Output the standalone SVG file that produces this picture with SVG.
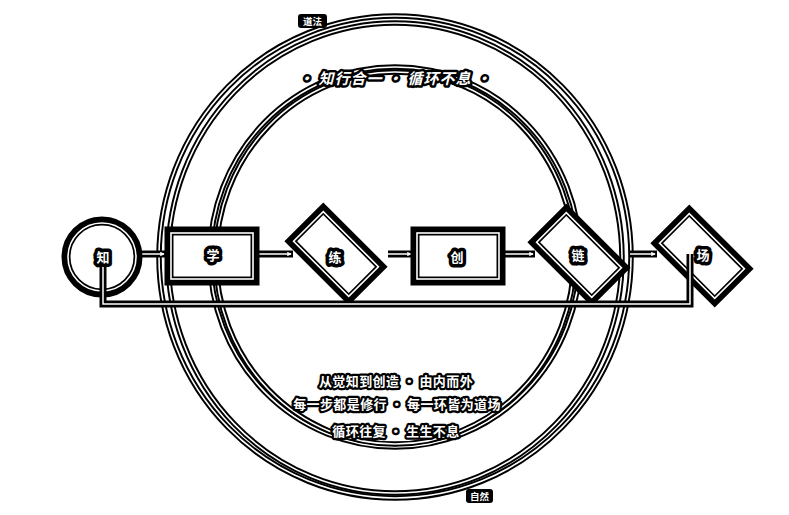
<svg xmlns="http://www.w3.org/2000/svg" width="789" height="515" viewBox="0 0 789 515">
<defs>
<style>
.rb{fill:none;stroke:#000;stroke-width:5.5}
.rw{fill:none;stroke:#fff;stroke-width:1.6}
.lb{fill:none;stroke:#000;stroke-width:7;stroke-linejoin:miter;stroke-linecap:butt}
.lw{fill:none;stroke:#fff;stroke-width:1.5;stroke-linejoin:miter}
.nb{fill:#fff;stroke:#000;stroke-width:9;stroke-linejoin:miter}
.nw{fill:none;stroke:#fff;stroke-width:1.6}
.t{font-family:"Noto Sans CJK SC","Noto Sans",sans-serif;font-weight:700;fill:#fff;stroke:#000;paint-order:stroke;stroke-linejoin:round;text-anchor:middle}
.nl{font-size:13px;stroke-width:7}
.cap{font-size:13px;stroke-width:4.5;letter-spacing:0.4px}
.ttl{font-size:15px;stroke-width:5;font-style:italic;letter-spacing:1px}
.tag{font-family:"Noto Sans CJK SC","Noto Sans",sans-serif;font-weight:700;font-size:9.5px;fill:#fff;text-anchor:middle}
</style>
<marker id="ah" viewBox="0 0 6 6" refX="5" refY="3" markerWidth="3" markerHeight="3" orient="auto" markerUnits="strokeWidth">
<path d="M0,0 L6,3 L0,6 z" fill="#fff"/>
</marker>
</defs>
<rect width="789" height="515" fill="#fff"/>

<g id="rings">
<ellipse class="rb" cx="395" cy="257" rx="236" ry="241"/>
<ellipse class="rw" cx="395" cy="257" rx="236" ry="241"/>
<ellipse class="rb" cx="395" cy="258" rx="227" ry="235"/>
<ellipse class="rw" cx="395" cy="258" rx="227" ry="235"/>
<ellipse class="rb" cx="395" cy="257" rx="185" ry="190"/>
<ellipse class="rw" cx="395" cy="257" rx="185" ry="190"/>
<ellipse class="rb" cx="395" cy="258" rx="179" ry="186"/>
<ellipse class="rw" cx="395" cy="258" rx="179" ry="186"/>
</g>

<g id="connectors">
<path class="lb" d="M136,254 H166 M258,254 H293 M388,254 H413 M503,254 H535 M630,254 H657"/>
<path class="lw" d="M136,254 H164" marker-end="url(#ah)"/>
<path class="lw" d="M258,254 H291" marker-end="url(#ah)"/>
<path class="lw" d="M388,254 H411" marker-end="url(#ah)"/>
<path class="lw" d="M503,254 H533" marker-end="url(#ah)"/>
<path class="lw" d="M630,254 H655" marker-end="url(#ah)"/>
</g>

<g id="node-zhi">
<circle class="nb" cx="102" cy="257" r="36"/>
<circle class="nw" cx="102" cy="257" r="34"/>
</g>
<g id="node-xue">
<rect class="nb" x="169" y="231" width="86" height="50"/>
<rect class="nw" x="171" y="233" width="82" height="46"/>
</g>
<g id="node-lian">
<g transform="translate(336,254) rotate(45)">
<rect class="nb" x="-41" y="-23" width="82" height="46"/>
<rect class="nw" x="-39" y="-21" width="78" height="42"/>
</g>
</g>
<g id="node-chuang">
<rect class="nb" x="415" y="231" width="86" height="50"/>
<rect class="nw" x="417" y="233" width="82" height="46"/>
</g>
<g id="node-lian2">
<g transform="translate(579,255) rotate(45)">
<rect class="nb" x="-41" y="-23" width="82" height="46"/>
<rect class="nw" x="-39" y="-21" width="78" height="42"/>
</g>
</g>
<g id="node-chang">
<g transform="translate(702,256) rotate(45)">
<rect class="nb" x="-41" y="-23" width="82" height="46"/>
<rect class="nw" x="-39" y="-21" width="78" height="42"/>
</g>
</g>

<g id="feedback">
<path class="lb" d="M690,254 V304 H103 V258"/>
<path class="lw" d="M690,254 V304 H103 V258"/>
</g>

<g id="labels">
<text class="t nl" x="103" y="262">知</text>
<text class="t nl" x="213" y="260">学</text>
<text class="t nl" x="335" y="262">练</text>
<text class="t nl" x="457" y="262">创</text>
<text class="t nl" x="578" y="260">链</text>
<text class="t nl" x="703" y="260">场</text>
</g>

<g id="title">
<text class="t ttl" x="395" y="84">· 知行合一 · 循环不息 ·</text>
</g>

<g id="captions">
<text class="t cap" x="396" y="386">从觉知到创造 · 由内而外</text>
<text class="t cap" x="397" y="409">每一步都是修行 · 每一环皆为道场</text>
<text class="t cap" x="396" y="436">循环往复 · 生生不息</text>
</g>

<g id="tag-top">
<rect x="298" y="14" width="29" height="14" rx="3" fill="#000"/>
<text class="tag" x="312.5" y="24.5">道法</text>
</g>
<g id="tag-bottom">
<rect x="466" y="489" width="27" height="14" rx="3" fill="#000"/>
<text class="tag" x="479.5" y="499.5">自然</text>
</g>
</svg>
